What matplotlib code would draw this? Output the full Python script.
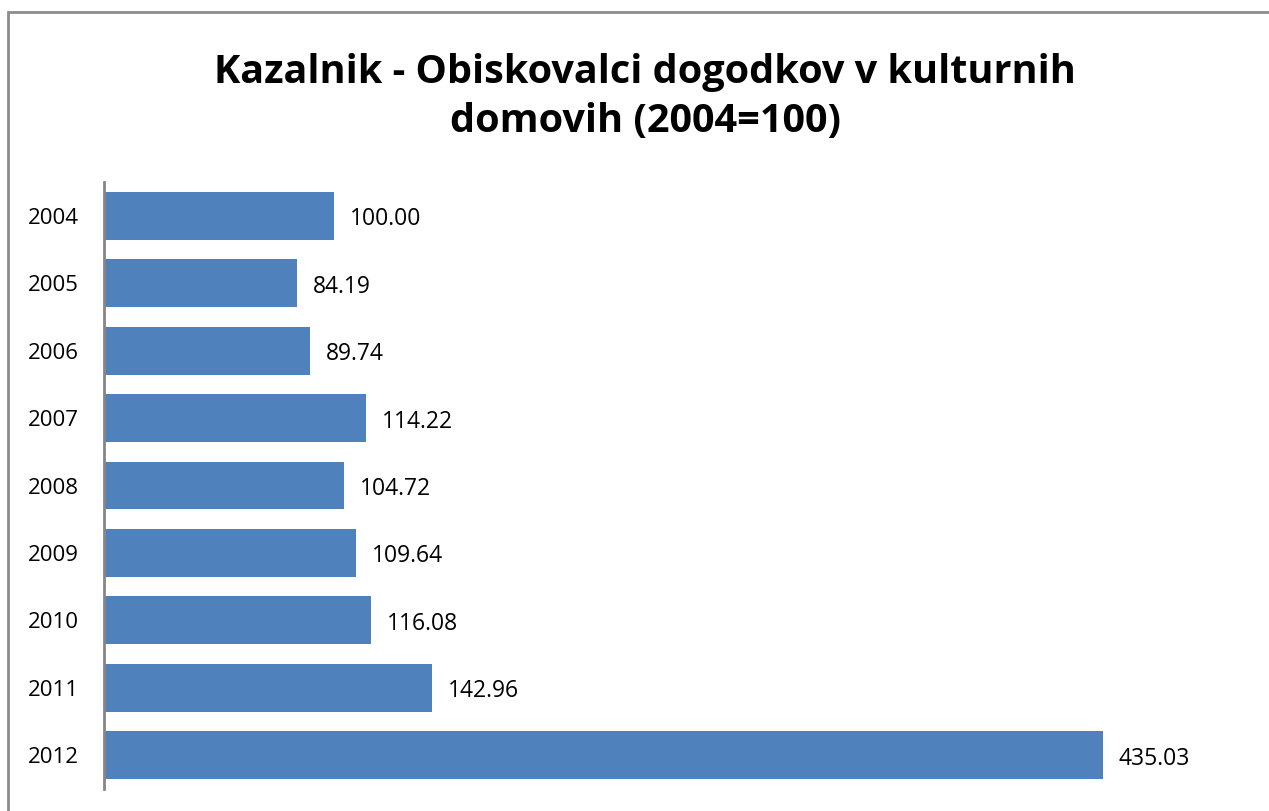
import matplotlib
matplotlib.use("Agg")
import matplotlib.pyplot as plt
from matplotlib.patches import Rectangle

years = ["2004", "2005", "2006", "2007", "2008", "2009", "2010", "2011", "2012"]
values = [100.00, 84.19, 89.74, 114.22, 104.72, 109.64, 116.08, 142.96, 435.03]
title = "Kazalnik - Obiskovalci dogodkov v kulturnih\ndomovih (2004=100)"

plt.rcParams['font.family'] = ['Open Sans', 'DejaVu Sans']

W, H = 1269, 811
fig = plt.figure(figsize=(W / 100, H / 100), dpi=100)

# outer chart border
fig.patches.append(Rectangle((8 / W, -0.05), 1.1, 1 - 12 / H + 0.05,
                             transform=fig.transFigure, fill=False,
                             edgecolor='#8c8c8c', linewidth=2))

ax = fig.add_axes([104 / W, 1 - 789 / H, (1252 - 104) / W, (789 - 182) / H])
pos = list(range(len(years)))
bars = ax.barh(pos, values, height=0.71, color='#4f81bd', left=0)
ax.set_ylim(len(years) - 0.5, -0.5)
ax.set_xlim(0, 500)
ax.set_yticks(pos)
ax.set_yticklabels(years, fontsize=16)
ax.tick_params(axis='y', length=0, pad=18)
ax.set_xticks([])
for s in ['top', 'right', 'bottom']:
    ax.spines[s].set_visible(False)
ax.spines['left'].set_color('#868686')
ax.spines['left'].set_linewidth(2)

for b, v in zip(bars, values):
    ax.annotate(f"{v:.2f}", (b.get_width(), b.get_y() + b.get_height() / 2),
                xytext=(11.5, -2.5), textcoords='offset points', va='center',
                ha='left', fontsize=16.5)

fig.text(645 / W, 1 - 97 / H, title, ha='center', va='center',
         fontsize=28.5, fontweight='bold', linespacing=1.35)

fig.savefig("out.png", dpi=100)
